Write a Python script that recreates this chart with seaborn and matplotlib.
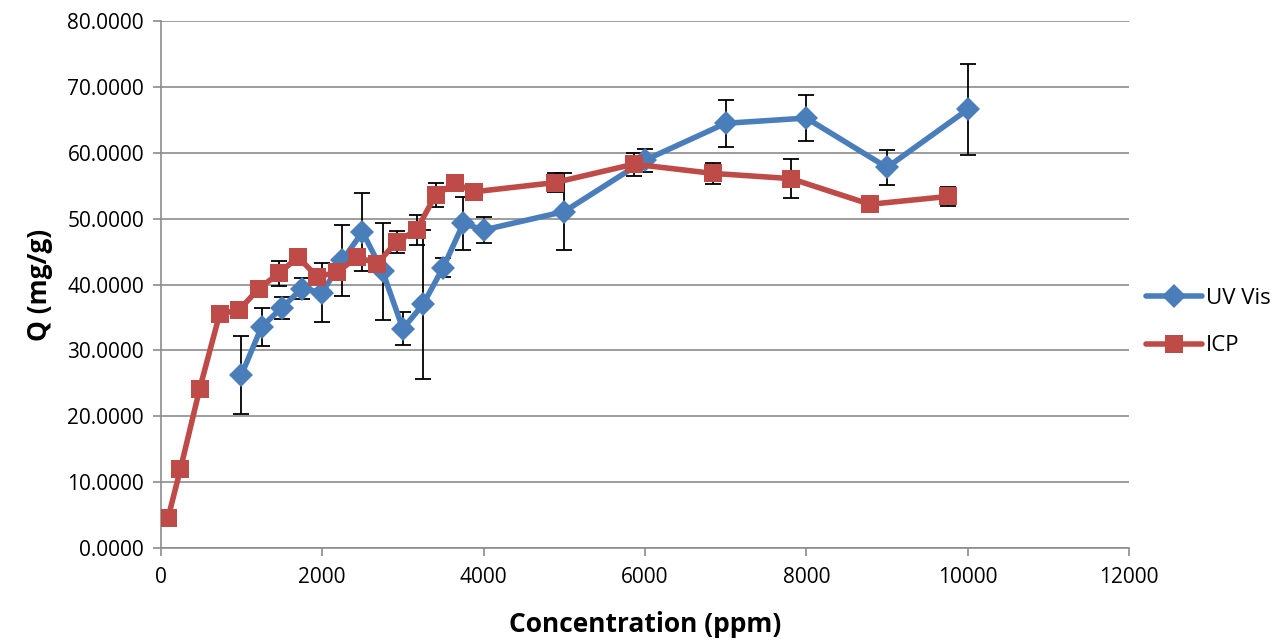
import numpy as np
import pandas as pd
import matplotlib
matplotlib.use('Agg')
import matplotlib.pyplot as plt
from matplotlib.ticker import FormatStrFormatter
import seaborn as sns

# UV Vis series
uv_conc = [1000, 1250, 1500, 1750, 2000, 2250, 2500, 2750, 3000, 3250, 3500, 3750, 4000,
           5000, 6000, 7000, 8000, 9000, 10000]
uv_q = [26.3, 33.6, 36.5, 39.4, 38.8, 43.7, 48.0, 42.0, 33.3, 37.0, 42.6, 49.3, 48.3,
        51.1, 58.9, 64.5, 65.3, 57.8, 66.6]
uv_err = [5.9, 2.9, 1.7, 1.65, 4.5, 5.4, 5.9, 7.4, 2.5, 11.3, 1.4, 4.0, 2.0,
          5.9, 1.75, 3.6, 3.55, 2.65, 6.95]

# ICP series
icp_conc = [91, 244, 483, 731, 967, 1215, 1463, 1702, 1938, 2186, 2434, 2682, 2922, 3170,
            3405, 3645, 3884, 4884, 5864, 6839, 7810, 8789, 9760]
icp_q = [4.6, 12.0, 24.2, 35.6, 36.1, 39.4, 41.7, 44.2, 41.2, 41.9, 44.2, 43.2, 46.5, 48.3,
         53.6, 55.4, 54.1, 55.5, 58.3, 56.9, 56.1, 52.2, 53.4]
icp_err = [0.3, 0.4, 0.5, 0.6, 0.6, 0.8, 1.9, 0.8, 0.9, 1.0, 1.2, 1.0, 1.65, 2.35,
           1.85, 0.8, 0.8, 1.4, 1.75, 1.6, 2.95, 0.4, 1.5]

df = pd.concat([
    pd.DataFrame({'Concentration': uv_conc, 'Q': uv_q, 'Series': 'UV Vis'}),
    pd.DataFrame({'Concentration': icp_conc, 'Q': icp_q, 'Series': 'ICP'}),
], ignore_index=True)

sns.set_style('white')
plt.rcParams['font.family'] = ['Open Sans', 'DejaVu Sans']
plt.rcParams['text.color'] = 'black'
plt.rcParams['axes.labelcolor'] = 'black'
plt.rcParams['xtick.color'] = 'black'
plt.rcParams['ytick.color'] = 'black'

colors = {'UV Vis': '#4A7EBB', 'ICP': '#BE4B48'}

fig = plt.figure(figsize=(12.86, 6.44), dpi=100)
ax = fig.add_axes([0.125, 0.149, 0.753, 0.818])

# error bars behind the markers
ax.errorbar(uv_conc, uv_q, yerr=uv_err, fmt='none', ecolor='black', elinewidth=1.3,
            capsize=6, capthick=1.3, zorder=2)
ax.errorbar(icp_conc, icp_q, yerr=icp_err, fmt='none', ecolor='black', elinewidth=1.3,
            capsize=6, capthick=1.3, zorder=2)

sns.lineplot(data=df, x='Concentration', y='Q', hue='Series', style='Series',
             markers={'UV Vis': 'D', 'ICP': 's'}, dashes=False, palette=colors,
             linewidth=4, markersize=12.5, markeredgewidth=0, sort=False,
             ax=ax, zorder=3)

ax.set_xlim(0, 12000)
ax.set_ylim(0, 80)
ax.set_xticks(range(0, 12001, 2000))
ax.set_yticks(range(0, 81, 10))
ax.yaxis.set_major_formatter(FormatStrFormatter('%.4f'))
ax.yaxis.grid(True, color='#8C8C8C', linewidth=1.2)
ax.set_axisbelow(True)

for s in ['top', 'right']:
    ax.spines[s].set_visible(False)
for s in ['left', 'bottom']:
    ax.spines[s].set_color('#8C8C8C')
    ax.spines[s].set_linewidth(1.2)

ax.tick_params(axis='x', direction='out', length=6, color='#8C8C8C', width=1.2,
               labelsize=15, pad=8, bottom=True, labelcolor='black')
ax.tick_params(axis='y', direction='out', length=6, color='#8C8C8C', width=1.2,
               labelsize=15, pad=6, left=True, labelcolor='black')

ax.set_xlabel('Concentration (ppm)', fontsize=19, fontweight='bold', labelpad=16, color='black')
ax.set_ylabel('Q (mg/g)', fontsize=19, fontweight='bold', labelpad=10, color='black')

handles, labels = ax.get_legend_handles_labels()
leg = ax.legend(handles, labels, loc='center left', bbox_to_anchor=(0.879, 0.5),
                bbox_transform=fig.transFigure, frameon=False, fontsize=16,
                handlelength=2.5, labelspacing=1.2, handletextpad=0.2, borderpad=0.2)
for t in leg.get_texts():
    t.set_color('black')

plt.savefig('out.png', dpi=100)
plt.close()
